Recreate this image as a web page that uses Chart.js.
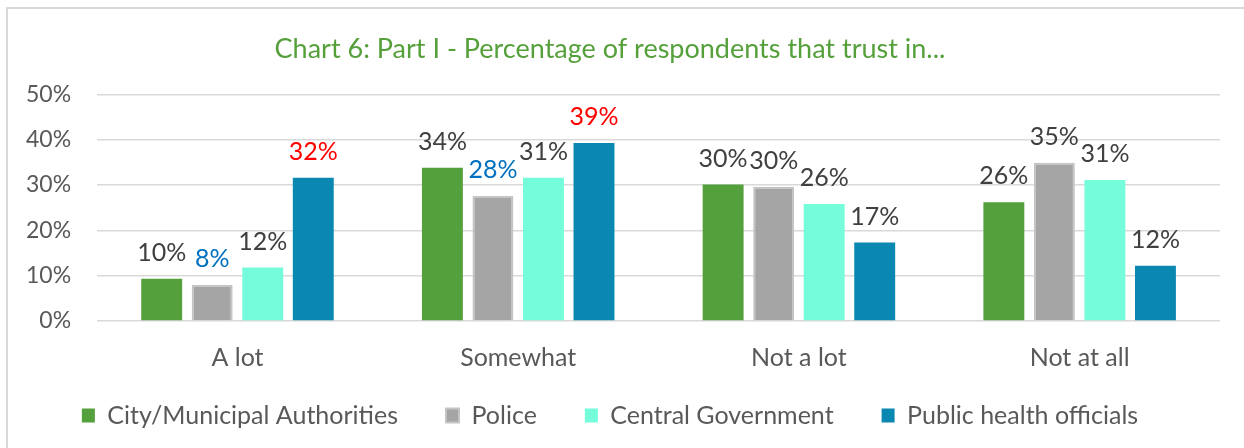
<!DOCTYPE html>
<html lang="en">
<head>
  <meta charset="UTF-8">
  <title>Chart 6: Part I - Percentage of respondents that trust in...</title>
  <script src="https://cdn.jsdelivr.net/npm/chart.js"></script>
  <style>
    body {
      margin: 0;
      background: #fff;
      overflow: hidden;
    }
    .frame {
      position: absolute;
      left: 6px;
      top: 7px;
      width: 1250px;
      height: 460px;
      border: 2px solid #d9d9d9;
    }
    .chart-box {
      position: absolute;
      left: 0;
      top: 0;
      width: 1244px;
      height: 448px;
    }
  </style>
</head>
<body>
  <div class="frame"></div>
  <div class="chart-box">
    <canvas id="trustChart"></canvas>
  </div>

  <script>
    // Data
    const categories = ['A lot', 'Somewhat', 'Not a lot', 'Not at all'];
    const seriesNames = ['City/Municipal Authorities', 'Police', 'Central Government', 'Public health officials'];

    const cityValues    = [9.3, 33.8, 30.1, 26.2];
    const policeValues  = [8.0, 27.6, 29.6, 34.9];
    const centralValues = [11.8, 31.6, 25.8, 31.1];
    const healthValues  = [31.6, 39.3, 17.3, 12.2];

    // labels as printed above each bar
    const cityLabels    = ['10%', '34%', '30%', '26%'];
    const policeLabels  = ['8%', '28%', '30%', '35%'];
    const centralLabels = ['12%', '31%', '26%', '31%'];
    const healthLabels  = ['32%', '39%', '17%', '12%'];

    const yTicks = [0, 10, 20, 30, 40, 50];

    const TEXT = '#595959';
    const LABEL = '#404040';
    const BLUE_TXT = '#0070C0';
    const RED_TXT = '#FF0000';
    const FONT = "Lato, 'Open Sans', sans-serif";

    const labelColors = [
      [LABEL, LABEL, LABEL, LABEL],
      [BLUE_TXT, BLUE_TXT, LABEL, LABEL],
      [LABEL, LABEL, LABEL, LABEL],
      [RED_TXT, RED_TXT, LABEL, LABEL]
    ];
    const labelTexts = [cityLabels, policeLabels, centralLabels, healthLabels];

    // small inline plugin to print value labels above the bars
    const barLabels = {
      id: 'barLabels',
      afterDatasetsDraw(chart) {
        const ctx = chart.ctx;
        ctx.save();
        ctx.font = '25px ' + FONT;
        ctx.textAlign = 'center';
        ctx.textBaseline = 'middle';
        chart.data.datasets.forEach((ds, d) => {
          const meta = chart.getDatasetMeta(d);
          meta.data.forEach((bar, i) => {
            ctx.fillStyle = labelColors[d][i];
            ctx.fillText(labelTexts[d][i], bar.x, bar.y - 26);
          });
        });
        ctx.restore();
      }
    };

    const barOpts = { categoryPercentage: 0.72, barPercentage: 0.81 };

    const ctx = document.getElementById('trustChart').getContext('2d');
    new Chart(ctx, {
      type: 'bar',
      data: {
        labels: categories,
        datasets: [
          { label: seriesNames[0], data: cityValues, backgroundColor: '#54A03C', ...barOpts },
          { label: seriesNames[1], data: policeValues, backgroundColor: '#A5A5A5', borderColor: '#C4C4C4', borderWidth: 2, ...barOpts },
          { label: seriesNames[2], data: centralValues, backgroundColor: '#74FCDB', ...barOpts },
          { label: seriesNames[3], data: healthValues, backgroundColor: '#0A88B1', ...barOpts }
        ]
      },
      options: {
        responsive: true,
        maintainAspectRatio: false,
        animation: false,
        layout: { padding: { top: 33, right: 24, bottom: 10, left: 0 } },
        plugins: {
          title: {
            display: true,
            text: 'Chart 6: Part I - Percentage of respondents that trust in...',
            color: '#56A03C',
            font: { family: FONT, size: 27, weight: 'normal' },
            padding: { top: 0, bottom: 29 }
          },
          legend: {
            position: 'bottom',
            labels: {
              color: TEXT,
              font: { family: FONT, size: 25 },
              boxWidth: 13,
              boxHeight: 14,
              padding: 16,
              // wider gaps between legend entries, like the original
              generateLabels: chart => Chart.defaults.plugins.legend.labels.generateLabels(chart)
                .map((item, i, arr) => ({ ...item, text: i < arr.length - 1 ? item.text + '     ' : item.text }))
            }
          },
          tooltip: { enabled: false }
        },
        scales: {
          x: {
            grid: { display: false },
            border: { display: false },
            ticks: { color: TEXT, font: { family: FONT, size: 25 }, padding: 14 }
          },
          y: {
            min: 0,
            max: 50,
            afterBuildTicks: axis => { axis.ticks = yTicks.map(v => ({ value: v })); },
            grid: { color: '#d9d9d9', lineWidth: 1.5, drawTicks: false },
            border: { display: false },
            ticks: {
              color: TEXT,
              font: { family: FONT, size: 23 },
              padding: 26,
              callback: v => v + '%'
            }
          }
        }
      },
      plugins: [barLabels]
    });
  </script>
</body>
</html>
